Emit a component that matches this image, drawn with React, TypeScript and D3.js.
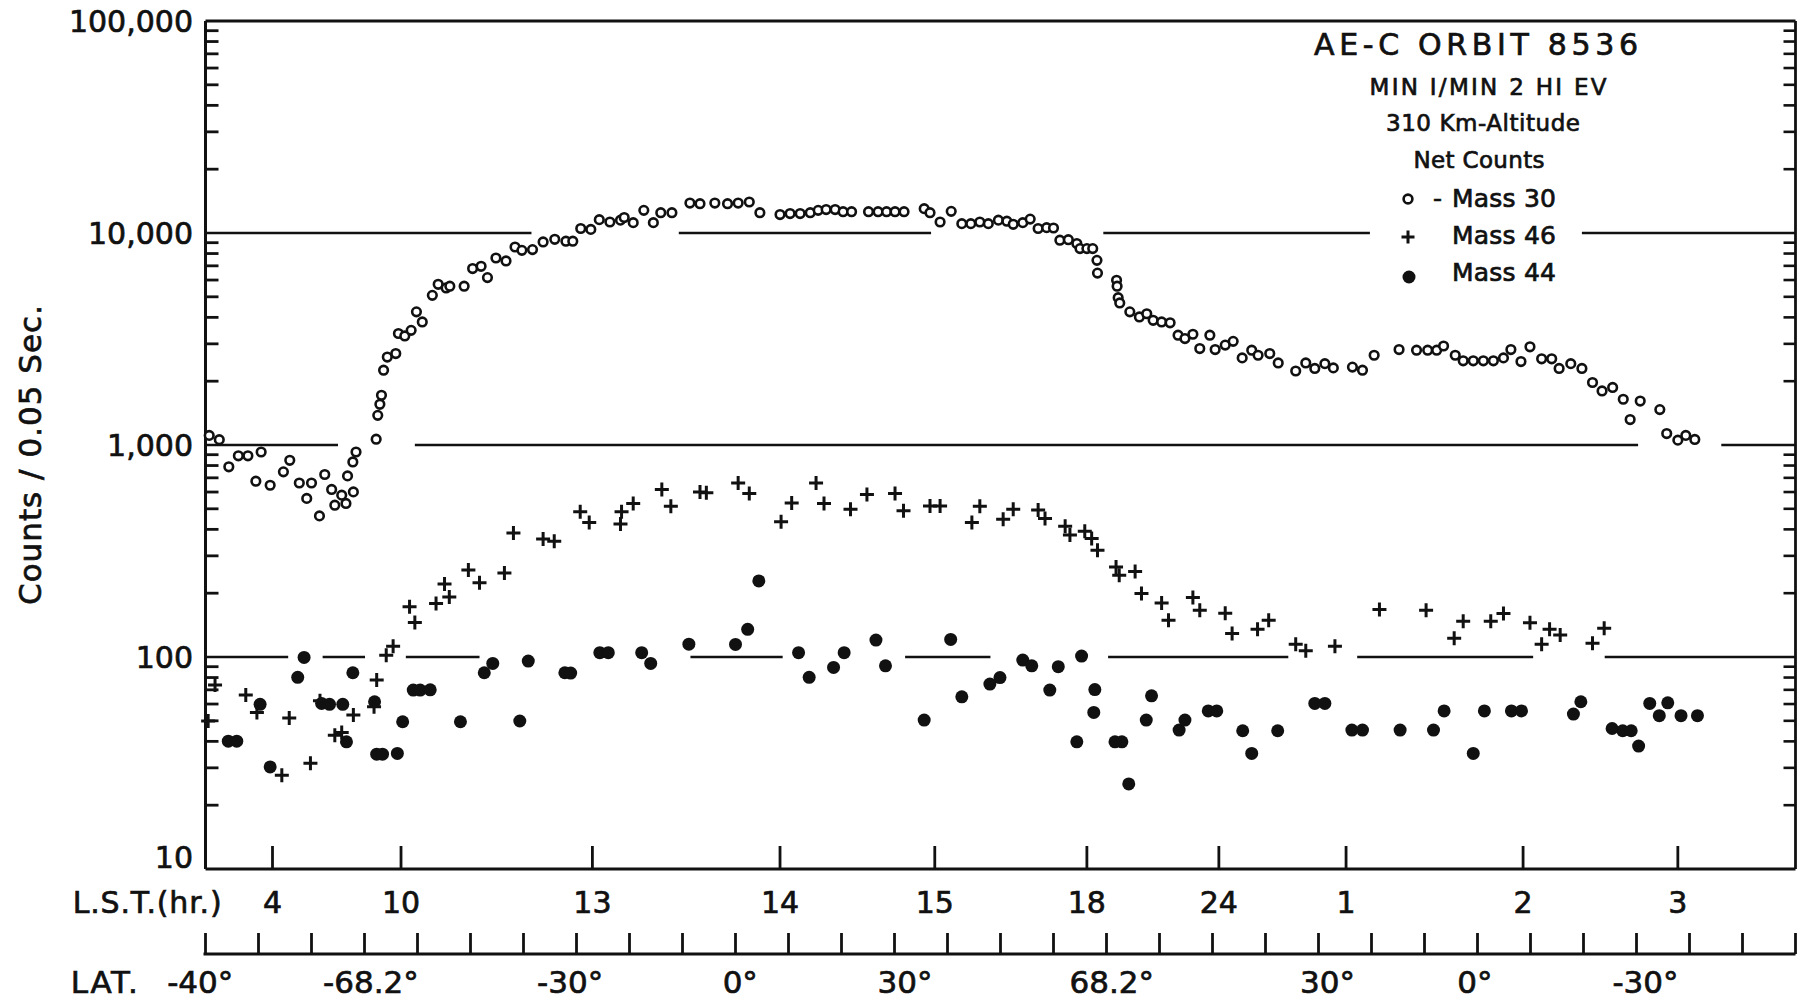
import React from 'react';
import * as d3 from 'd3';

// Orbit position is measured in units of the latitude-scale tick spacing (0..30)
const mass30: [number, number][] = [
  [0.07,1110],[0.26,1060],[0.44,789],[0.62,889],[0.80,889],[0.95,675],[1.05,927],[1.22,646],[1.47,747],[1.59,847],
  [1.77,662],[1.91,560],[2.00,662],[2.15,463],[2.25,726],[2.38,617],[2.44,520],[2.57,580],[2.65,530],[2.68,715],
  [2.78,832],[2.79,601],[2.84,927],[3.22,1065],[3.25,1380],[3.29,1556],[3.32,1717],[3.36,2254],[3.43,2600],[3.59,2700],
  [3.64,3357],[3.76,3268],[3.88,3474],[3.98,4246],[4.09,3805],[4.28,5080],[4.39,5728],[4.54,5506],[4.61,5611],[4.88,5611],
  [5.04,6797],[5.20,6966],[5.32,6160],[5.48,7624],[5.67,7380],[5.84,8590],[5.97,8282],[6.17,8350],[6.37,9072],[6.59,9340],
  [6.80,9150],[6.93,9150],[7.08,10500],[7.27,10400],[7.43,11560],[7.63,11270],[7.83,11500],[7.90,11830],[8.07,11190],[8.27,12790],
  [8.45,11190],[8.59,12470],[8.80,12470],[9.14,13840],[9.33,13750],[9.61,13840],[9.85,13750],[10.05,13840],[10.26,14000],[10.46,12470],
  [10.84,12220],[11.03,12350],[11.22,12350],[11.41,12470],[11.56,12790],[11.71,12900],[11.88,12900],[12.03,12600],[12.19,12600],[12.51,12600],
  [12.69,12600],[12.85,12600],[13.01,12600],[13.18,12600],[13.56,13030],[13.67,12470],[13.86,11270],[14.07,12650],[14.27,11070],[14.44,11070],
  [14.61,11270],[14.77,11070],[14.96,11500],[15.12,11370],[15.24,10990],[15.42,11190],[15.56,11630],[15.71,10500],[15.87,10600],[16.00,10560],
  [16.12,9250],[16.28,9300],[16.44,8920],[16.50,8440],[16.63,8440],[16.74,8440],[16.82,7430],[16.83,6470],[17.19,5985],[17.20,5611],
  [17.22,4955],[17.25,4677],[17.44,4246],[17.62,4018],[17.76,4160],[17.88,3873],[18.04,3805],[18.20,3770],[18.35,3296],[18.48,3177],
  [18.63,3330],[18.76,2850],[18.95,3296],[19.05,2820],[19.24,2960],[19.39,3083],[19.56,2576],[19.74,2800],[19.86,2650],[20.08,2700],
  [20.24,2438],[20.57,2234],[20.76,2438],[20.93,2296],[21.12,2420],[21.28,2310],[21.64,2330],[21.83,2254],[22.05,2650],[22.52,2820],
  [22.85,2800],[23.06,2800],[23.23,2800],[23.36,2930],[23.58,2650],[23.73,2495],[23.92,2495],[24.11,2495],[24.30,2495],[24.49,2576],
  [24.63,2820],[24.82,2475],[24.99,2905],[25.21,2550],[25.40,2550],[25.54,2296],[25.76,2420],[25.97,2296],[26.17,1972],[26.35,1799],
  [26.55,1868],[26.75,1644],[26.88,1318],[27.07,1612],[27.44,1469],[27.57,1132],[27.78,1054],[27.93,1110],[28.10,1062],
];

const mass46: [number, number][] = [
  [0.05,49.9],[0.18,73.7],[0.76,66.1],[0.97,54.8],[1.44,27.7],[1.58,51.6],[1.98,31.5],[2.16,62.2],[2.44,42.8],[2.57,44],
  [2.79,53.2],[3.18,58.2],[3.23,77.8],[3.41,102],[3.54,112.5],[3.85,172.5],[3.95,145.5],[4.35,179],[4.51,221],[4.60,192],
  [4.96,257],[5.17,224],[5.64,249],[5.81,385],[6.37,360],[6.58,352],[7.07,484],[7.24,431],[7.83,424],[7.85,484],
  [8.07,530],[8.61,617],[8.78,514],[9.33,601],[9.45,595],[10.05,662],[10.26,590],[10.86,434],[11.06,533],[11.52,662],
  [11.67,530],[12.17,497],[12.48,584],[13.01,590],[13.17,489],[13.67,516],[13.86,516],[14.46,431],[14.61,514],[15.05,446],
  [15.24,497],[15.71,494],[15.84,450],[16.22,414],[16.31,376],[16.59,392],[16.72,362],[16.83,319],[17.18,266],[17.24,243],
  [17.54,253],[17.66,199.5],[18.04,180],[18.17,149],[18.63,191],[18.76,166],[19.24,161],[19.37,129],[19.85,135],[20.06,149],
  [20.57,115],[20.76,107],[21.31,112.5],[22.15,167.5],[23.03,166],[23.56,122.5],[23.73,147.5],[24.25,147.5],[24.49,160.6],[24.99,145],
  [25.21,115],[25.36,135],[25.56,127],[26.17,116],[26.39,136.5],
];

const mass44: [number, number][] = [
  [0.43,40.1],[0.59,40.1],[1.03,59.8],[1.22,30.3],[1.74,80.2],[1.86,99.5],[2.19,60.4],[2.34,59.8],[2.59,59.8],[2.66,39.8],
  [2.78,84.3],[3.19,61.5],[3.23,34.8],[3.34,34.8],[3.62,35.1],[3.72,49.5],[3.92,69.8],[4.05,69.8],[4.24,70],[4.81,49.5],
  [5.26,84.3],[5.42,93.3],[5.93,49.9],[6.09,95.7],[6.78,84.3],[6.89,84],[7.44,104.8],[7.60,104.8],[8.23,104.8],[8.40,93.3],
  [9.12,115],[10.00,114.6],[10.23,135],[10.44,228.6],[11.19,104.8],[11.39,80.2],[11.85,89.3],[12.05,104.8],[12.65,120.2],[12.83,90.9],
  [13.56,50.4],[14.06,121],[14.27,64.9],[14.80,74.5],[14.99,80],[15.42,96.7],[15.59,90.9],[15.93,69.8],[16.09,90],[16.44,39.8],
  [16.53,101],[16.78,70.2],[16.76,54.8],[17.16,39.8],[17.29,39.8],[17.42,25.2],[17.75,50.4],[17.85,65.6],[18.37,45.2],[18.48,50.4],
  [18.92,55.7],[19.08,55.7],[19.57,44.9],[19.74,35.1],[20.23,44.9],[20.93,60.4],[21.12,60.4],[21.63,45.2],[21.83,45.2],[22.54,45.2],
  [23.17,45.2],[23.37,55.7],[23.92,35.1],[24.13,55.7],[24.64,55.7],[24.83,55.7],[25.81,53.8],[25.95,61.5],[26.54,46],[26.74,44.9],
  [26.90,44.9],[27.04,38],[27.25,60.4],[27.43,52.9],[27.59,60.8],[27.84,52.9],[28.15,52.9],
];

const yTickValues = [10, 100, 1000, 10000, 100000];
const yTickLabels = ['10', '100', '1,000', '10,000', '100,000'];

const lstLabels = ['4', '10', '13', '14', '15', '18', '24', '1', '2', '3'];
const lstPositions = [1.264, 3.689, 7.30, 10.84, 13.76, 16.63, 19.12, 21.52, 24.86, 27.78];

const latLabels = ['-40°', '-68.2°', '-30°', '0°', '30°', '68.2°', '30°', '0°', '-30°'];
const latLabelPositions = [-0.1, 3.12, 6.88, 10.09, 13.2, 17.1, 21.17, 23.95, 27.17];
const latTickCount = 31;

// broken reference lines at decades (segments in orbit units)
const gridValues = [10000, 1000, 100];
const gridSegments: [number, number][][] = [
  [[0, 6.15], [8.93, 13.69], [16.94, 21.97], [25.97, 30]],
  [[0, 2.5], [3.95, 27.03], [28.6, 30]],
  [[0, 1.56], [2.21, 3.01], [3.78, 5.17], [9.15, 10.89], [13.2, 14.81], [17.03, 20.43], [21.73, 25.05], [26.4, 30]],
];

const titleLines = ['AE-C ORBIT 8536', 'MIN I/MIN 2 HI EV', '310 Km-Altitude', 'Net Counts'];
const legendLabels = ['Mass 30', 'Mass 46', 'Mass 44'];

const INK = '#111';
const FONT = "'DejaVu Sans', sans-serif";

export default function App() {
  const W = 1805, H = 1002;
  const left = 205.5, right = 1795.5, top = 21, bottom = 869;
  const latAxisY = 954;

  const x = d3.scaleLinear().domain([0, 30]).range([left, right]);
  const y = d3.scaleLog().domain([10, 100000]).range([bottom, top]);

  const minorValues: number[] = [];
  [10, 100, 1000, 10000].forEach((d) => {
    for (let k = 2; k <= 9; k++) minorValues.push(d * k);
  });

  const plusPath = (cx: number, cy: number, s = 7) =>
    `M${cx - s},${cy}H${cx + s}M${cx},${cy - s}V${cy + s}`;

  const titleSpecs = [
    { cx: 1476, y: 55, size: 30, len: 324 },
    { cx: 1488, y: 95, size: 23, len: 237 },
    { cx: 1483, y: 131, size: 23, len: 194 },
    { cx: 1479, y: 168, size: 23, len: 131 },
  ];

  const txt = { fill: INK, stroke: INK, strokeWidth: 0.7 };

  return (
    <svg width={W} height={H} viewBox={`0 0 ${W} ${H}`}
      style={{ position: 'absolute', left: 0, top: 0, background: '#fff' }}
      fontFamily={FONT}>
      <rect x={0} y={0} width={W} height={H} fill="#fff" />

      {gridValues.map((v, i) => (
        <g key={`g${v}`}>
          {gridSegments[i].map((s, j) => (
            <line key={j} x1={x(s[0])} x2={x(s[1])} y1={y(v)} y2={y(v)} stroke={INK} strokeWidth={2.3} />
          ))}
        </g>
      ))}

      <line x1={left} x2={right} y1={top} y2={top} stroke={INK} strokeWidth={2.8} />
      <line x1={left} x2={right} y1={bottom} y2={bottom} stroke={INK} strokeWidth={3.2} />
      <line x1={left} x2={left} y1={top} y2={bottom} stroke={INK} strokeWidth={3} />
      <line x1={right} x2={right} y1={top} y2={bottom} stroke={INK} strokeWidth={2.8} />

      {minorValues.map((v) => (
        <g key={`m${v}`}>
          <line x1={left} x2={left + 13} y1={y(v)} y2={y(v)} stroke={INK} strokeWidth={2.8} />
          <line x1={right} x2={right - 12} y1={y(v)} y2={y(v)} stroke={INK} strokeWidth={2.6} />
        </g>
      ))}

      {yTickValues.map((v, i) => (
        <text key={`yl${v}`} x={193} y={v === 10 ? bottom - 1 : y(v) + 11}
          textAnchor="end" fontSize={30} {...txt}>{yTickLabels[i]}</text>
      ))}

      <text transform={`translate(41,455) rotate(-90)`} textAnchor="middle" fontSize={31}
        {...txt} textLength={300} lengthAdjust="spacing">Counts / 0.05 Sec.</text>

      {mass44.map((d, i) => (
        <circle key={`d${i}`} cx={x(d[0])} cy={y(d[1])} r={6.5} fill={INK} />
      ))}
      {mass46.map((d, i) => (
        <path key={`p${i}`} d={plusPath(x(d[0]), y(d[1]))} stroke={INK} strokeWidth={3} fill="none" />
      ))}
      {mass30.map((d, i) => (
        <circle key={`c${i}`} cx={x(d[0])} cy={y(d[1])} r={4.3} fill="#fff" stroke={INK} strokeWidth={2.6} />
      ))}

      {lstPositions.map((p, i) => (
        <g key={`lst${i}`}>
          <line x1={x(p)} x2={x(p)} y1={bottom} y2={bottom - 23} stroke={INK} strokeWidth={2.8} />
          <text x={x(p)} y={913} textAnchor="middle" fontSize={30} {...txt}>{lstLabels[i]}</text>
        </g>
      ))}
      <text x={72.7} y={913} fontSize={30} {...txt} textLength={149} lengthAdjust="spacing">L.S.T.(hr.)</text>

      <line x1={left - 2} x2={right} y1={latAxisY} y2={latAxisY} stroke={INK} strokeWidth={3.2} />
      {d3.range(latTickCount).map((k) => (
        <line key={`lt${k}`} x1={x(k)} x2={x(k)} y1={latAxisY} y2={latAxisY - 21} stroke={INK} strokeWidth={2.8} />
      ))}
      <text x={70.8} y={993} fontSize={31} {...txt} textLength={67} lengthAdjust="spacing">LAT.</text>
      {latLabels.map((l, i) => (
        <text key={`ll${i}`} x={x(latLabelPositions[i])} y={993} textAnchor="middle" fontSize={31} {...txt}>{l}</text>
      ))}

      {titleLines.map((t, i) => (
        <text key={`t${i}`} x={titleSpecs[i].cx} y={titleSpecs[i].y} textAnchor="middle"
          fontSize={titleSpecs[i].size} {...txt} textLength={titleSpecs[i].len} lengthAdjust="spacing">{t}</text>
      ))}

      <circle cx={1408} cy={199} r={4.4} fill="#fff" stroke={INK} strokeWidth={2.6} />
      <text x={1433} y={207} fontSize={25} {...txt}>-</text>
      <path d={plusPath(1408, 237, 6.5)} stroke={INK} strokeWidth={3} fill="none" />
      <circle cx={1409} cy={277} r={6.5} fill={INK} />
      {legendLabels.map((l, i) => (
        <text key={`lg${i}`} x={1452} y={207 + i * 37} fontSize={25} {...txt}
          textLength={104} lengthAdjust="spacing">{l}</text>
      ))}
    </svg>
  );
}
